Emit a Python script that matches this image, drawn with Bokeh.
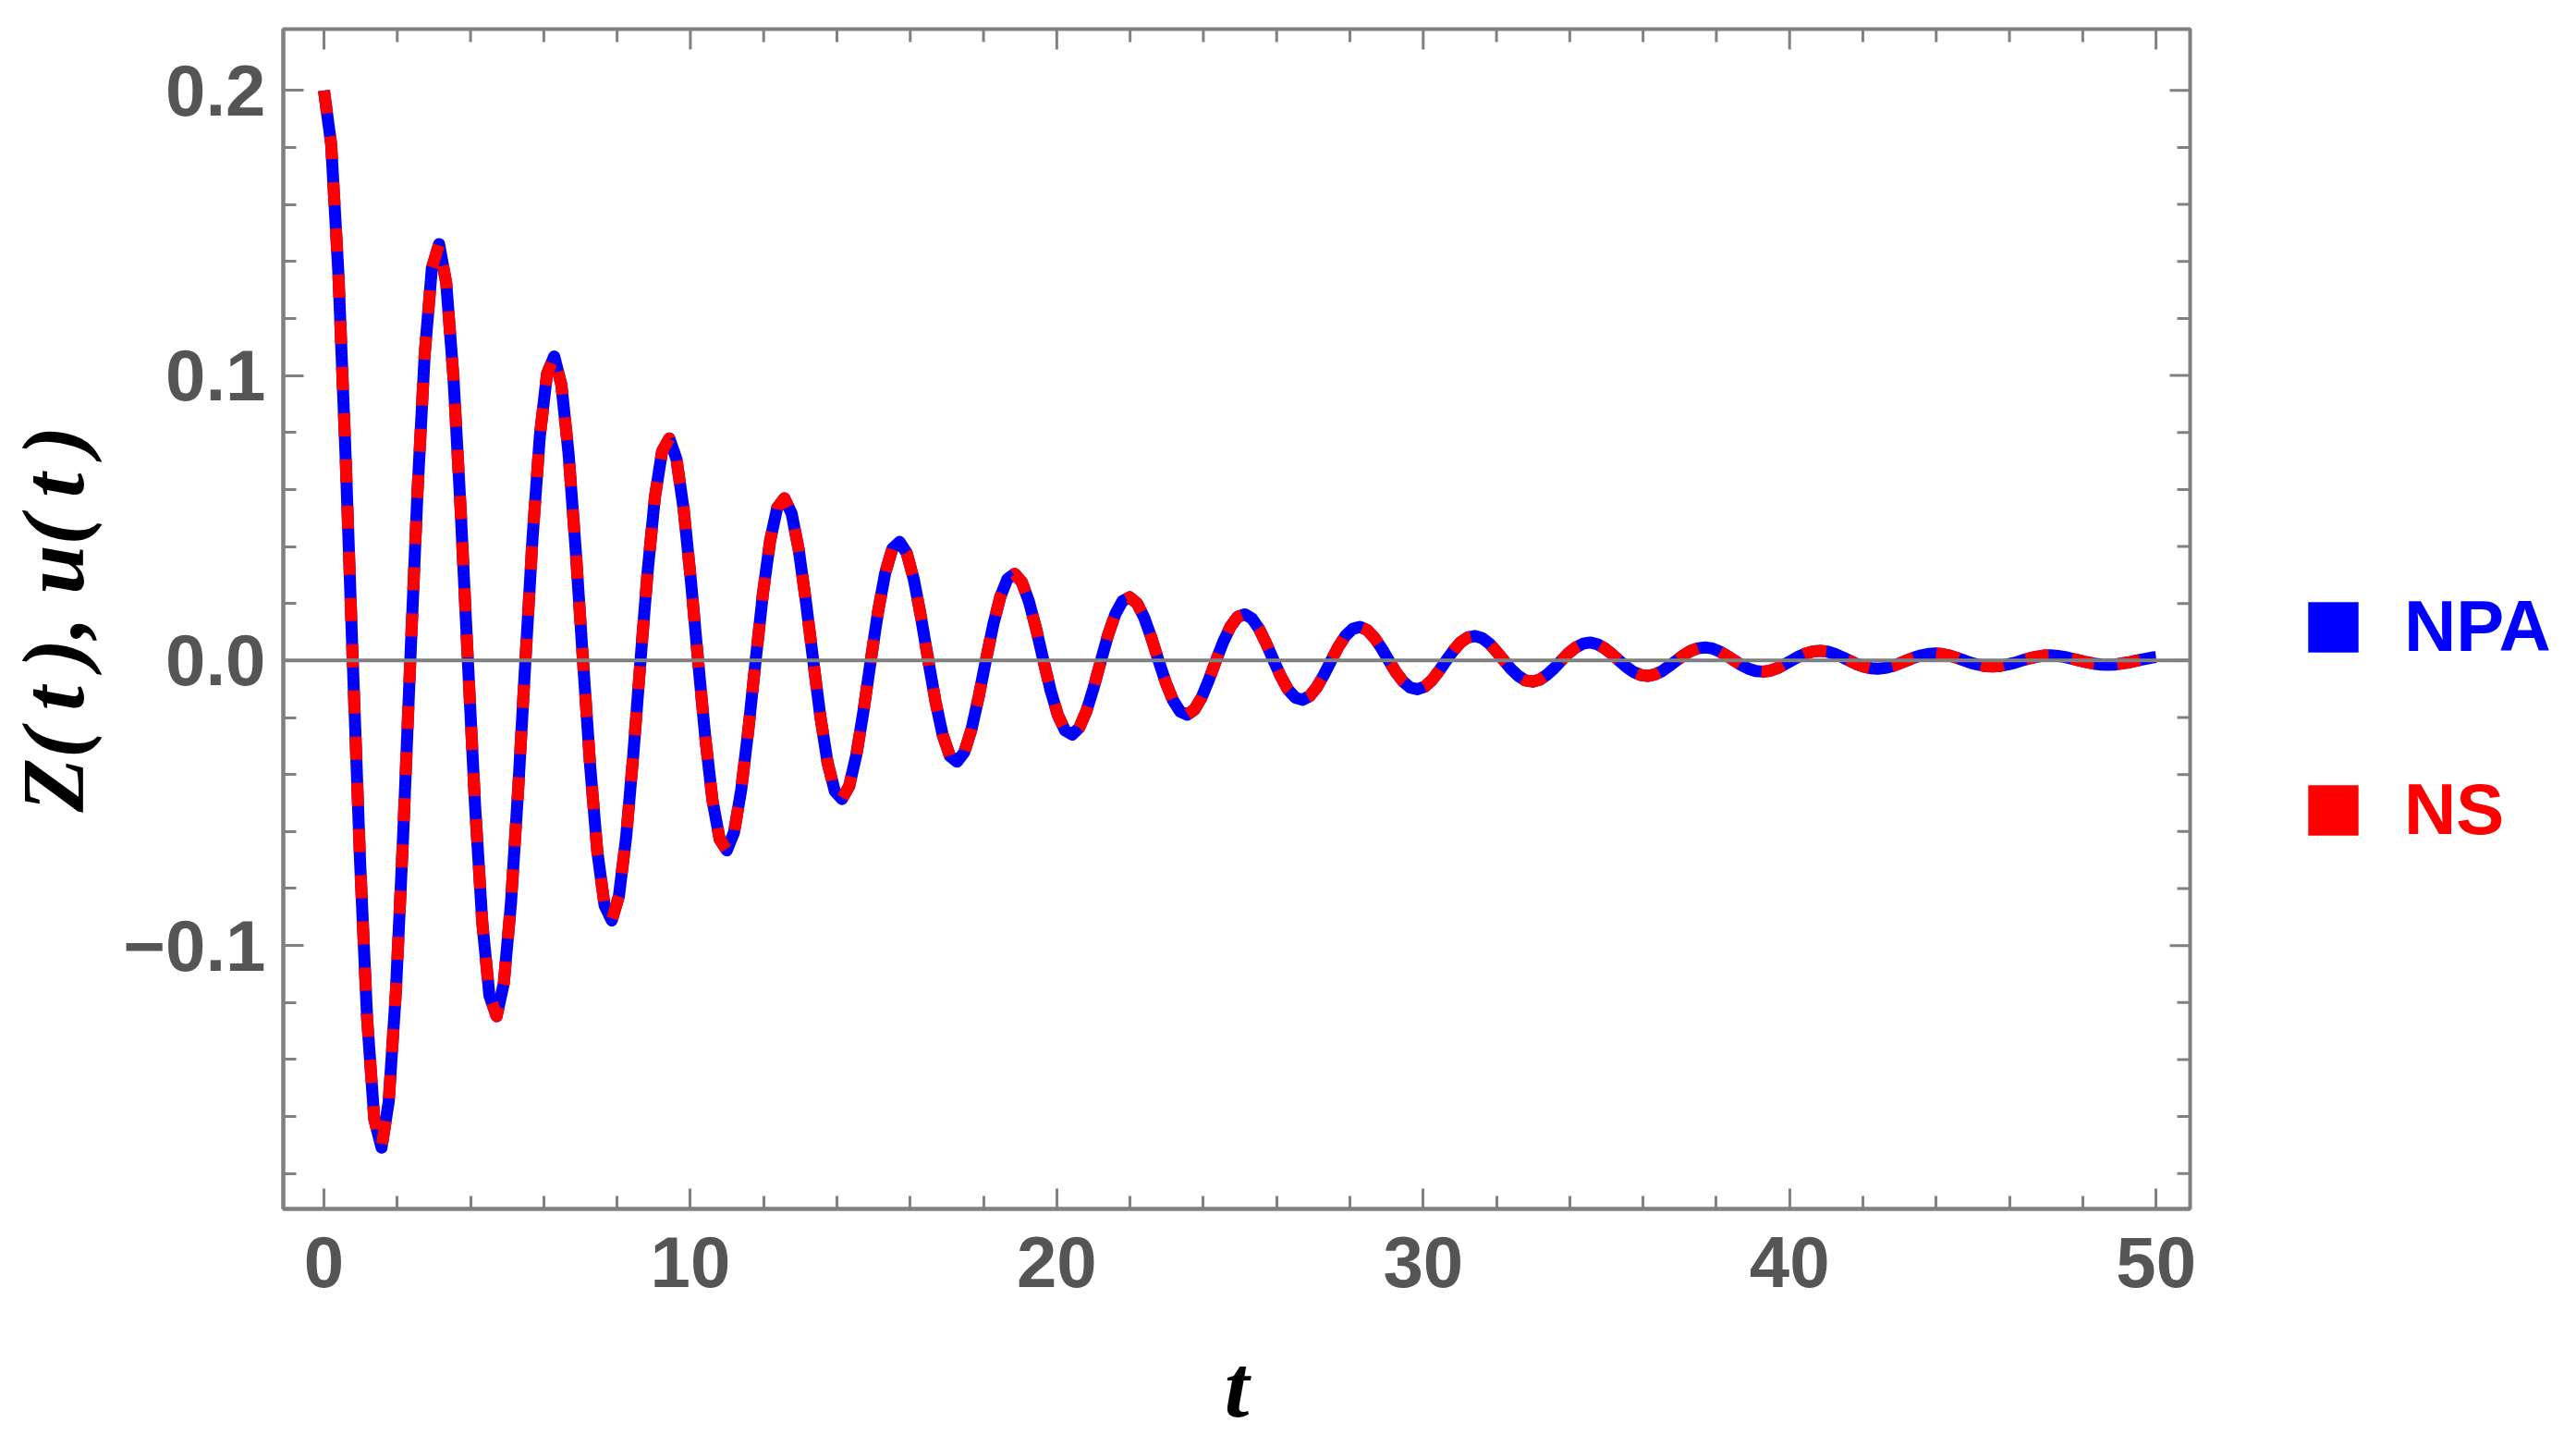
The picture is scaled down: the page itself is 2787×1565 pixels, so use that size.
import math
from bokeh.plotting import figure
from bokeh.layouts import row
from bokeh.models import Range1d, FixedTicker, Legend, LegendItem, Span, ColumnDataSource
from bokeh.embed import file_html
from bokeh.resources import INLINE

# ---- data ----
t = [
    0.0, 0.196, 0.393, 0.589, 0.785, 0.982, 1.178, 1.374, 1.571, 1.767, 1.963, 2.160, 2.356, 2.553, 2.749, 2.945,
    3.142, 3.338, 3.534, 3.731, 3.927, 4.123, 4.320, 4.516, 4.712, 4.909, 5.105, 5.301, 5.498, 5.694, 5.890, 6.087,
    6.283, 6.480, 6.676, 6.872, 7.069, 7.265, 7.461, 7.658, 7.854, 8.050, 8.247, 8.443, 8.639, 8.836, 9.032, 9.228,
    9.425, 9.621, 9.817, 10.014, 10.210, 10.407, 10.603, 10.799, 10.996, 11.192, 11.388, 11.585, 11.781, 11.977, 12.174, 12.370,
    12.566, 12.763, 12.959, 13.155, 13.352, 13.548, 13.744, 13.941, 14.137, 14.334, 14.530, 14.726, 14.923, 15.119, 15.315, 15.512,
    15.708, 15.904, 16.101, 16.297, 16.493, 16.690, 16.886, 17.082, 17.279, 17.475, 17.671, 17.868, 18.064, 18.261, 18.457, 18.653,
    18.850, 19.046, 19.242, 19.439, 19.635, 19.831, 20.028, 20.224, 20.420, 20.617, 20.813, 21.009, 21.206, 21.402, 21.598, 21.795,
    21.991, 22.188, 22.384, 22.580, 22.777, 22.973, 23.169, 23.366, 23.562, 23.758, 23.955, 24.151, 24.347, 24.544, 24.740, 24.936,
    25.133, 25.329, 25.525, 25.722, 25.918, 26.114, 26.311, 26.507, 26.704, 26.900, 27.096, 27.293, 27.489, 27.685, 27.882, 28.078,
    28.274, 28.471, 28.667, 28.863, 29.060, 29.256, 29.452, 29.649, 29.845, 30.041, 30.238, 30.434, 30.631, 30.827, 31.023, 31.220,
    31.416, 31.612, 31.809, 32.005, 32.201, 32.398, 32.594, 32.790, 32.987, 33.183, 33.379, 33.576, 33.772, 33.968, 34.165, 34.361,
    34.558, 34.754, 34.950, 35.147, 35.343, 35.539, 35.736, 35.932, 36.128, 36.325, 36.521, 36.717, 36.914, 37.110, 37.306, 37.503,
    37.699, 37.895, 38.092, 38.288, 38.485, 38.681, 38.877, 39.074, 39.270, 39.466, 39.663, 39.859, 40.055, 40.252, 40.448, 40.644,
    40.841, 41.037, 41.233, 41.430, 41.626, 41.822, 42.019, 42.215, 42.412, 42.608, 42.804, 43.001, 43.197, 43.393, 43.590, 43.786,
    43.982, 44.179, 44.375, 44.571, 44.768, 44.964, 45.160, 45.357, 45.553, 45.749, 45.946, 46.142, 46.338, 46.535, 46.731, 46.928,
    47.124, 47.320, 47.517, 47.713, 47.909, 48.106, 48.302, 48.498, 48.695, 48.891, 49.087, 49.284, 49.480, 49.676, 49.873, 50.0,
]

npa_z = [
    0.2, 0.1812, 0.1360, 0.0722, 0.0, -0.0694, -0.1257, -0.1610, -0.1709, -0.1548, -0.1162, -0.0617, 0.0, 0.0593, 0.1074, 0.1376,
    0.1461, 0.1323, 0.0993, 0.0527, 0.0, -0.0507, -0.0918, -0.1176, -0.1248, -0.1131, -0.0849, -0.0451, 0.0, 0.0433, 0.0785, 0.1005,
    0.1067, 0.0967, 0.0725, 0.0385, 0.0, -0.0370, -0.0671, -0.0859, -0.0912, -0.0826, -0.0620, -0.0329, 0.0, 0.0316, 0.0573, 0.0734,
    0.0779, 0.0706, 0.0530, 0.0281, 0.0, -0.0270, -0.0490, -0.0627, -0.0666, -0.0603, -0.0453, -0.0240, 0.0, 0.0231, 0.0419, 0.0536,
    0.0569, 0.0516, 0.0387, 0.0205, 0.0, -0.0197, -0.0358, -0.0458, -0.0486, -0.0441, -0.0331, -0.0176, 0.0, 0.0169, 0.0306, 0.0392,
    0.0416, 0.0377, 0.0283, 0.0150, 0.0, -0.0144, -0.0261, -0.0335, -0.0355, -0.0322, -0.0242, -0.0128, 0.0, 0.0123, 0.0223, 0.0286,
    0.0304, 0.0275, 0.0206, 0.0110, 0.0, -0.0105, -0.0191, -0.0245, -0.0260, -0.0235, -0.0176, -0.0094, 0.0, 0.0090, 0.0163, 0.0209,
    0.0222, 0.0201, 0.0151, 0.0080, 0.0, -0.0077, -0.0139, -0.0179, -0.0190, -0.0172, -0.0129, -0.0068, 0.0, 0.0066, 0.0119, 0.0153,
    0.0162, 0.0147, 0.0110, 0.0058, 0.0, -0.0056, -0.0102, -0.0130, -0.0138, -0.0125, -0.0094, -0.0050, 0.0, 0.0048, 0.0087, 0.0111,
    0.0118, 0.0107, 0.0080, 0.0043, 0.0, -0.0041, -0.0074, -0.0095, -0.0101, -0.0092, -0.0069, -0.0036, 0.0, 0.0035, 0.0064, 0.0081,
    0.0086, 0.0078, 0.0059, 0.0031, 0.0, -0.0030, -0.0054, -0.0070, -0.0074, -0.0067, -0.0050, -0.0027, 0.0, 0.0026, 0.0046, 0.0059,
    0.0063, 0.0057, 0.0043, 0.0023, 0.0, -0.0022, -0.0040, -0.0051, -0.0054, -0.0049, -0.0037, -0.0019, 0.0, 0.0019, 0.0034, 0.0043,
    0.0046, 0.0042, 0.0031, 0.0017, 0.0, -0.0016, -0.0029, -0.0037, -0.0039, -0.0036, -0.0027, -0.0014, 0.0, 0.0014, 0.0025, 0.0032,
    0.0034, 0.0031, 0.0023, 0.0012, 0.0, -0.0012, -0.0021, -0.0027, -0.0029, -0.0026, -0.0020, -0.0010, 0.0, 0.0010, 0.0018, 0.0023,
    0.0025, 0.0022, 0.0017, 0.0009, 0.0, -0.0009, -0.0015, -0.0020, -0.0021, -0.0019, -0.0014, -0.0008, 0.0, 0.0007, 0.0013, 0.0017,
    0.0018, 0.0016, 0.0012, 0.0006, 0.0, -0.0006, -0.0011, -0.0014, -0.0015, -0.0014, -0.0010, -0.0006, 0.0, 0.0005, 0.0010, 0.0012,
]

# The NS curve lies exactly on top of the NPA curve in the picture
ns_z = list(npa_z)

series_names = ["NPA", "NS"]
series_colors = ["#0000FF", "#FF0000"]

x_major_ticks = [0, 10, 20, 30, 40, 50]
x_minor_ticks = [0, 2, 4, 6, 8, 10, 12, 14, 16, 18, 20, 22, 24, 26, 28, 30,
                 32, 34, 36, 38, 40, 42, 44, 46, 48, 50]
y_major_ticks = [-0.1, 0.0, 0.1, 0.2]
y_tick_labels = {-0.1: "\u22120.1", 0.0: "0.0", 0.1: "0.1", 0.2: "0.2"}
y_minor_ticks = [-0.18, -0.16, -0.14, -0.12, -0.1, -0.08, -0.06, -0.04, -0.02, 0.0,
                 0.02, 0.04, 0.06, 0.08, 0.1, 0.12, 0.14, 0.16, 0.18, 0.2]

X_START, X_END = -1.11, 50.93
Y_START, Y_END = -0.1924, 0.2215

GRAY = "#808080"
MAJOR_LEN, MINOR_LEN = 22, 14
FIG_H = 1557

p = figure(
    width=2380, height=FIG_H,
    x_range=Range1d(X_START, X_END), y_range=Range1d(Y_START, Y_END),
    output_backend="svg", toolbar_location=None,
    min_border_left=305, min_border_right=11, min_border_top=31, min_border_bottom=FIG_H - 1307,
    x_axis_label="t", y_axis_label="Z(\u2009t\u2009), u(\u2009t\u2009)",
)
p.xgrid.visible = False
p.ygrid.visible = False
p.background_fill_color = "white"
p.border_fill_color = "white"
p.outline_line_color = GRAY
p.outline_line_width = 4


def style_axis(ax, ticker):
    ax.ticker = ticker
    ax.axis_line_color = GRAY
    ax.axis_line_width = 4
    ax.major_tick_line_color = GRAY
    ax.major_tick_line_width = 3
    ax.minor_tick_line_color = GRAY
    ax.minor_tick_line_width = 3
    ax.major_tick_in = MAJOR_LEN
    ax.major_tick_out = 0
    ax.minor_tick_in = MINOR_LEN
    ax.minor_tick_out = 0
    ax.major_label_text_font = "Liberation Sans"
    ax.major_label_text_font_style = "bold"
    ax.major_label_text_font_size = "78px"
    ax.major_label_text_color = "#555555"
    ax.axis_label_text_font = "Liberation Serif"
    ax.axis_label_text_font_style = "bold italic"
    ax.axis_label_text_font_size = "96px"
    ax.axis_label_text_color = "black"


style_axis(p.xaxis[0], FixedTicker(ticks=x_major_ticks, minor_ticks=x_minor_ticks))
style_axis(p.yaxis[0], FixedTicker(ticks=y_major_ticks, minor_ticks=y_minor_ticks))
p.xaxis[0].major_label_standoff = 30
p.xaxis[0].axis_label_standoff = 51
p.yaxis[0].major_label_standoff = 19
p.yaxis[0].axis_label_standoff = 20
p.yaxis[0].major_label_overrides = y_tick_labels

# mirrored ticks on the top and right frame edges (half of each dash is clipped by the frame)
x_major_set = set(x_major_ticks)
y_major_set = set(y_major_ticks)
top_minor = [v for v in x_minor_ticks if v not in x_major_set]
right_minor = [v for v in y_minor_ticks if v not in y_major_set]
p.scatter(x=x_major_ticks, y=[Y_END] * len(x_major_ticks), marker="dash", angle=math.pi / 2,
          size=2 * MAJOR_LEN, line_color=GRAY, line_width=3, fill_color=None)
p.scatter(x=top_minor, y=[Y_END] * len(top_minor), marker="dash", angle=math.pi / 2,
          size=2 * MINOR_LEN, line_color=GRAY, line_width=3, fill_color=None)
p.scatter(x=[X_END] * len(y_major_ticks), y=y_major_ticks, marker="dash",
          size=2 * MAJOR_LEN, line_color=GRAY, line_width=3, fill_color=None)
p.scatter(x=[X_END] * len(right_minor), y=right_minor, marker="dash",
          size=2 * MINOR_LEN, line_color=GRAY, line_width=3, fill_color=None)

# curves
npa_line = p.line(t, npa_z, line_color=series_colors[0], line_width=13, line_join="round")
ns_line = p.line(t, ns_z, line_color=series_colors[1], line_width=13,
                 line_dash="25 25", line_cap="butt", line_join="round")

# horizontal axis at zero
p.add_layout(Span(location=0, dimension="width", line_color=GRAY, line_width=4))

# legend panel to the right of the plot
p_leg = figure(
    width=391, height=FIG_H, x_range=Range1d(0, 1), y_range=Range1d(0, 1),
    x_axis_type=None, y_axis_type=None, toolbar_location=None,
    output_backend="svg", min_border=0,
)
p_leg.outline_line_color = None
p_leg.background_fill_color = "white"
p_leg.border_fill_color = "white"

# hidden swatch renderers: they only supply the square glyphs of the legend
swatches = []
for color in series_colors:
    src = ColumnDataSource(data=dict(left=[0], right=[1], top=[1], bottom=[0]))
    r = p_leg.quad(left="left", right="right", top="top", bottom="bottom", source=src,
                   fill_color=color, line_color=None)
    r.visible = False
    swatches.append(r)

legend_locs = [(110, 584), (110, 386)]
for name, color, sw, loc in zip(series_names, series_colors, swatches, legend_locs):
    leg = Legend(
        items=[LegendItem(label=name, renderers=[sw])],
        location=loc,
        glyph_width=68, glyph_height=68, label_standoff=43,
        label_text_font="Liberation Sans", label_text_font_style="bold",
        label_text_font_size="78px", label_text_color=color,
        border_line_color=None, background_fill_alpha=0,
        padding=0, margin=0,
    )
    p_leg.add_layout(leg)

layout = row(p, p_leg, spacing=0)
open("out.html", "w").write(file_html(layout, INLINE))
